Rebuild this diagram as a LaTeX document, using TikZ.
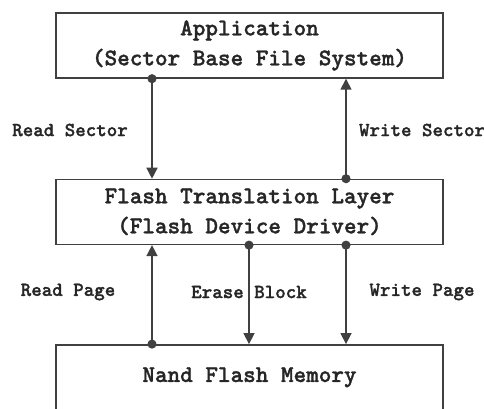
\documentclass[tikz,border=0pt]{standalone}
\usepackage{fontspec}
\newfontfamily\typewr{lmmonolt10-bold.otf}[FakeBold=1.3]
\usetikzlibrary{arrows.meta,positioning}

\begin{document}
\begin{tikzpicture}[x=1pt,y=-1pt,
  layer/.style={draw=black!75,line width=1.4pt,minimum width=387pt,minimum height=65pt,
    inner sep=0pt,align=center,text=black!85,font=\typewr\fontsize{24}{30}\selectfont},
  lbl/.style={text=black!85,font=\typewr\fontsize{20}{22}\selectfont},
  flow/.style={draw=black!75,line width=1.5pt,shorten <=-4.5pt,
    {Circle[length=9pt]}-{Triangle[width=11pt,length=11pt]}}]
\useasboundingbox (0,0) rectangle (484,408);
% the three layers
\node[layer] (app) at (249.5,45.5) {Application\\(Sector Base File System)};
\node[layer,below=100pt of app] (ftl) {Flash Translation Layer\\(Flash Device Driver)};
\node[layer,below=99pt of ftl] (nand) {Nand Flash Memory};
% columns of the connectors
\coordinate (colA) at (152,0);
\coordinate (colB) at (249,0);
\coordinate (colC) at (346,0);
% sector access
\draw[flow] (app.south -| colA) -- (ftl.north -| colA);
\draw[flow] (ftl.north -| colC) -- (app.south -| colC);
% page access
\draw[flow] (nand.north -| colA) -- (ftl.south -| colA);
\draw[flow] (ftl.south -| colB) -- (nand.north -| colB);
\draw[flow] (ftl.south -| colC) -- (nand.north -| colC);
% labels
\node[lbl] (rs) at (70,130) {Read Sector};
\node[lbl] (ws) at (422,130) {Write Sector};
\node[lbl] (rp) at (68,292) {Read Page};
\node[lbl] (eb) at (249,292) {Erase Block};
\node[lbl] (wp) at (422,292) {Write Page};
\end{tikzpicture}
\end{document}
